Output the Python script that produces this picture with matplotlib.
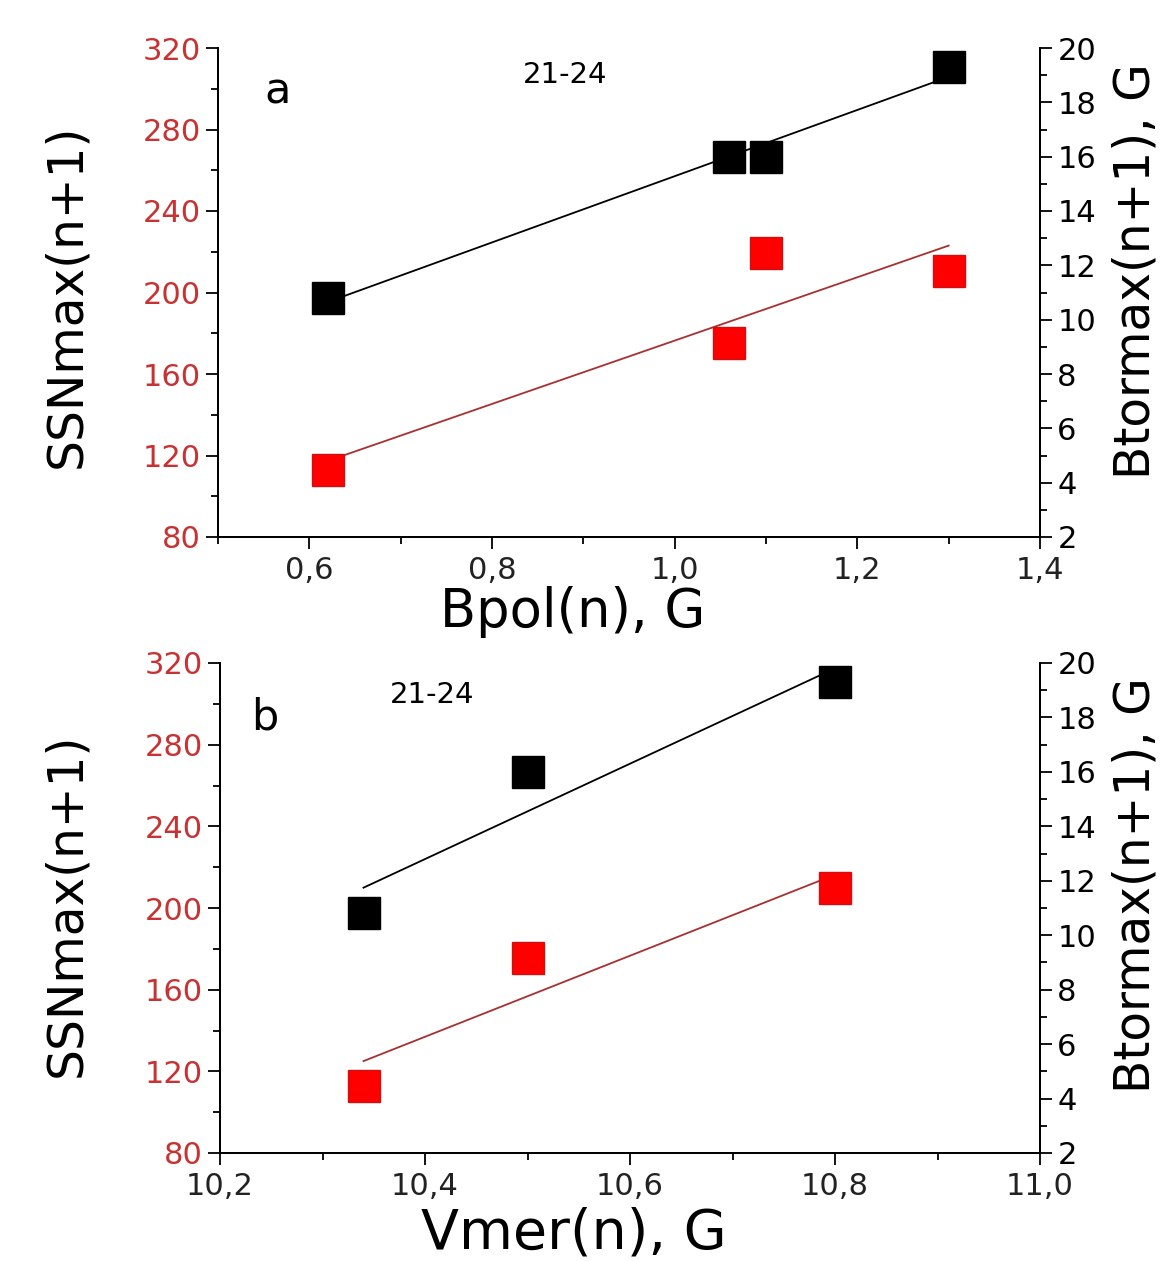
import numpy as np
import matplotlib
matplotlib.use("Agg")
import matplotlib.pyplot as plt
from matplotlib.ticker import MultipleLocator, FuncFormatter

# panel a: Bpol(n)
bpol_x_btor = [0.62, 1.06, 1.10, 1.30]
btor_a = [10.8, 16.0, 16.0, 19.3]
bpol_x_ssn = [0.62, 1.06, 1.10, 1.30]
ssn_a = [113, 175, 219.5, 210.5]

# panel b: Vmer(n)
vmer_x = [10.34, 10.50, 10.80]
btor_b = [10.8, 16.0, 19.3]
ssn_b = [112.8, 175.5, 209.8]

RED = "#ff0000"
RED_TICK = "#c83232"
RED_LINE = "#a83030"

plt.rcParams["font.family"] = ["DejaVu Sans"]

W, H = 1170, 1261
fig = plt.figure(figsize=(W / 100, H / 100), dpi=100)


def px_box(l, t, r, b):
    return [l / W, 1 - b / H, (r - l) / W, (b - t) / H]


def comma(v, pos):
    return f"{v:.1f}".replace(".", ",")


def panel(box, xlim, xmaj, xmin, xs_b, yb, xs_s, ys):
    ax = fig.add_axes(box)
    ax2 = ax.twinx()
    ax.set_xlim(*xlim)
    ax.set_ylim(80, 320)
    ax2.set_ylim(2, 20)
    for a in (ax, ax2):
        a.spines["top"].set_visible(False)
        for s in ("left", "right", "bottom"):
            a.spines[s].set_linewidth(1.4)
    ax.xaxis.set_major_locator(MultipleLocator(xmaj))
    ax.xaxis.set_minor_locator(MultipleLocator(xmin))
    ax.xaxis.set_major_formatter(FuncFormatter(comma))
    ax.yaxis.set_major_locator(MultipleLocator(40))
    ax.yaxis.set_minor_locator(MultipleLocator(20))
    ax2.yaxis.set_major_locator(MultipleLocator(2))
    ax2.yaxis.set_minor_locator(MultipleLocator(1))
    ax.tick_params(axis="both", which="major", direction="out", length=8.5,
                   width=1.3, labelsize=22, pad=4)
    ax.tick_params(axis="both", which="minor", direction="out", length=5, width=1.3)
    ax.tick_params(axis="y", which="major", labelcolor=RED_TICK)
    ax.tick_params(axis="x", labelcolor="#222222", pad=5)
    ax.tick_params(top=False, which="both")
    ax2.tick_params(axis="y", which="major", direction="out", length=8.5,
                    width=1.3, labelsize=22, pad=4)
    ax2.tick_params(axis="y", which="minor", direction="out", length=5, width=1.3)

    # linear fits
    xs_s = np.array(xs_s)
    k, c = np.polyfit(xs_s, ys, 1)
    xx = np.array([xs_s.min(), xs_s.max()])
    ax.plot(xx, k * xx + c, color=RED_LINE, lw=1.3, zorder=2)
    ax.plot(xs_s, ys, "s", ms=23, mfc=RED, mec="#d01010", mew=1, zorder=3, clip_on=False)

    xs_b = np.array(xs_b)
    k, c = np.polyfit(xs_b, yb, 1)
    xx = np.array([xs_b.min(), xs_b.max()])
    ax2.plot(xx, k * xx + c, color="black", lw=1.3, zorder=2)
    ax2.plot(xs_b, yb, "s", ms=23, mfc="black", mec="black", mew=1, zorder=3, clip_on=False)
    return ax, ax2


ax_a, ax_a2 = panel(px_box(218, 48, 1040, 537), (0.5, 1.4), 0.2, 0.1,
                    bpol_x_btor, btor_a, bpol_x_ssn, ssn_a)
ax_b, ax_b2 = panel(px_box(220, 663, 1040, 1153), (10.2, 11.0), 0.2, 0.1,
                    vmer_x, btor_b, vmer_x, ssn_b)


def ftext(x, y, s, va="center", **kw):
    fig.text(x / W, 1 - y / H, s, ha="center", va=va, **kw)


ftext(278, 92, "a", fontsize=31)
ftext(565, 75, "21-24", fontsize=21)
ftext(265, 718, "b", fontsize=31)
ftext(432, 695, "21-24", fontsize=21)

ftext(66, 296, "SSNmax(n+1)", fontsize=35, rotation=90)
ftext(66, 905, "SSNmax(n+1)", fontsize=35, rotation=90)
ftext(1135, 271, "Btormax(n+1), G", fontsize=35, rotation=90)
ftext(1135, 885, "Btormax(n+1), G", fontsize=35, rotation=90)
ftext(573, 627, "Bpol(n), G", va="baseline", fontsize=38)
ftext(574, 1249, "Vmer(n), G", va="baseline", fontsize=40)

fig.savefig("out.png", dpi=100, facecolor="white")
